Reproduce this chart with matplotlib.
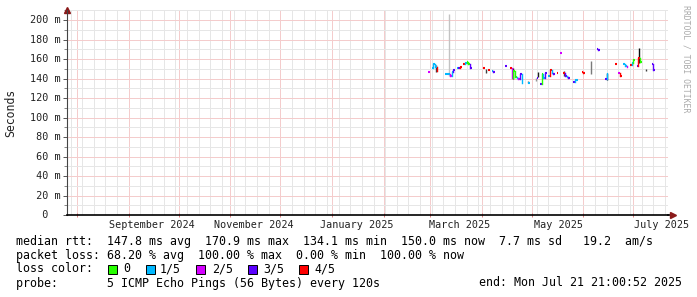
import numpy as np
import pandas as pd
import matplotlib
matplotlib.use("Agg")
import matplotlib.pyplot as plt
import matplotlib.dates as mdates
import matplotlib.transforms as mtrans
from matplotlib.patches import Rectangle
from matplotlib.ticker import MultipleLocator

# ---------------- data ----------------
end_time = "2025-07-21 21:00:52"
span_days = 361

sample_dates = [
    "2025-02-28", "2025-03-02", "2025-03-03", "2025-03-04", "2025-03-05",
    "2025-03-10", "2025-03-11", "2025-03-12", "2025-03-13", "2025-03-14",
    "2025-03-15", "2025-03-17", "2025-03-18", "2025-03-19", "2025-03-21",
    "2025-03-22", "2025-03-23", "2025-03-24", "2025-03-25",
    "2025-04-02", "2025-04-05", "2025-04-07", "2025-04-08", "2025-04-15",
    "2025-04-18", "2025-04-19", "2025-04-20", "2025-04-21", "2025-04-22",
    "2025-04-23", "2025-04-24", "2025-04-25", "2025-04-29",
    "2025-05-04", "2025-05-06", "2025-05-07", "2025-05-08", "2025-05-09",
    "2025-05-11", "2025-05-12", "2025-05-13", "2025-05-14", "2025-05-16",
    "2025-05-18", "2025-05-20", "2025-05-21", "2025-05-22", "2025-05-23",
    "2025-05-26", "2025-05-27", "2025-05-28", "2025-05-31", "2025-06-01",
    "2025-06-09", "2025-06-10", "2025-06-14", "2025-06-15", "2025-06-20",
    "2025-06-22", "2025-06-23", "2025-06-25", "2025-06-26", "2025-06-27",
    "2025-06-29", "2025-06-30", "2025-07-01", "2025-07-03", "2025-07-04",
    "2025-07-05", "2025-07-12", "2025-07-13",
]
median_ms = [
    146.2, 150.8, 154.4, 151.5, 147.7,
    145.1, 144.6, 145.0, 143.1, 147.2,
    149.2, 151.3, 150.3, 152.3, 154.9,
    155.9, 156.9, 154.5, 150.5,
    150.5, 148.7, 148.2, 146.7, 152.8,
    150.5, 140.2, 147.7, 141.8, 140.2,
    140.0, 144.3, 135.1, 135.1,
    141.0, 134.4, 144.6, 140.5, 145.6,
    142.6, 148.7, 145.3, 144.6, 145.3,
    165.8, 145.3, 142.6, 141.5, 140.2,
    136.7, 138.5, 139.0, 147.0, 145.3,
    170.8, 169.2, 140.0, 145.0, 155.0,
    146.0, 143.0, 155.0, 152.8, 151.8,
    153.8, 155.9, 159.0, 152.8, 161.0,
    157.0, 155.0, 149.0,
]
loss_level = [
    2, 1, 1, 1, 4,
    1, 1, 1, 2, 1,
    3, 1, 3, 4, 4,
    1, 0, 0, 3,
    4, 4, 1, 3, 3,
    4, 2, 0, 0, 1,
    2, 3, 1, 1,
    3, 3, 0, 1, 3,
    1, 4, 1, 3, 4,
    2, 4, 3, 1, 3,
    3, 1, 1, 4, 4,
    3, 3, 3, 1, 4,
    2, 4, 1, 1, 2,
    4, 1, 0, 3, 4,
    0, 3, 3,
]

smoke_dates = ["2025-03-04", "2025-03-12", "2025-04-03", "2025-04-19", "2025-04-28",
               "2025-05-03", "2025-05-04", "2025-05-20", "2025-06-05", "2025-06-15",
               "2025-07-04", "2025-07-08"]
smoke_low = [147, 143, 146, 140, 135, 137, 142, 143, 145, 138, 156, 148]
smoke_high = [154, 206, 150, 151, 137, 141, 147, 148, 158, 146, 171, 150]
smoke_density = [0.8, 0.35, 0.8, 0.9, 0.65, 0.5, 0.9, 0.8, 0.6, 0.9, 0.95, 0.8]

loss_labels = ["0", "1/5", "2/5", "3/5", "4/5"]
loss_colors = ["#26ff00", "#00b8ff", "#d400ff", "#5a00ff", "#ff0000"]

month_labels = ["September 2024", "November 2024", "January 2025",
                "March 2025", "May 2025", "July 2025"]
month_label_dates = ["2024-09-15", "2024-11-15", "2025-01-16",
                     "2025-03-19", "2025-05-17", "2025-07-18"]

y_ticks = [0, 20, 40, 60, 80, 100, 120, 140, 160, 180, 200]
y_tick_labels = ["  0  ", " 20 m", " 40 m", " 60 m", " 80 m", "100 m",
                 "120 m", "140 m", "160 m", "180 m", "200 m"]

legend_line1 = "median rtt:  147.8 ms avg  170.9 ms max  134.1 ms min  150.0 ms now  7.7 ms sd   19.2  am/s"
legend_line2 = "packet loss: 68.20 % avg  100.00 % max  0.00 % min  100.00 % now"
legend_line3 = "loss color:"
legend_line4 = "probe:       5 ICMP Echo Pings (56 Bytes) every 120s"
legend_end = "end: Mon Jul 21 21:00:52 2025"

# ---------------- figure ----------------
W, H = 697, 297
fig = plt.figure(figsize=(W / 100, H / 100), dpi=100)
fig.patch.set_facecolor("white")


def fx(px):
    return px / W


def fy(py):
    return 1 - py / H


MONO = "DejaVu Sans Mono"
ax = fig.add_axes([fx(67), fy(215), fx(668) - fx(67), fy(10) - fy(215)])
ax.set_facecolor("white")

t_end = mdates.date2num(pd.Timestamp(end_time))
ax.set_xlim(t_end - span_days, t_end)
ax.set_ylim(0, 210.3)

# grid (dotted in the original; drawn as light lines of the same apparent tone)
ax.xaxis.set_major_locator(mdates.MonthLocator())
ax.xaxis.set_minor_locator(mdates.WeekdayLocator(byweekday=mdates.SU))
ax.yaxis.set_major_locator(MultipleLocator(20))
ax.yaxis.set_minor_locator(MultipleLocator(10))
ax.grid(which="minor", color="#e6e6e6", linestyle="-", linewidth=0.72, zorder=0)
ax.grid(which="major", color="#f4cccc", linestyle="-", linewidth=0.72, zorder=0)
ax.set_axisbelow(True)
ax.set_xticklabels([])
ax.set_yticklabels([])
ax.tick_params(axis="x", which="major", length=3, width=0.7, color="#e08080", direction="inout")
ax.tick_params(axis="x", which="minor", length=0)
ax.tick_params(axis="y", which="major", length=3, width=0.7, color="#555555", direction="out")
ax.tick_params(axis="y", which="minor", length=2, width=0.7, color="#888888", direction="out")

for s in ["top", "right"]:
    ax.spines[s].set_visible(False)
ax.spines["bottom"].set_color("black")
ax.spines["bottom"].set_linewidth(1.2)
ax.spines["left"].set_color("#444444")
ax.spines["left"].set_linewidth(0.8)

# arrows
ax.plot([1.0, 1.008], [0, 0], transform=ax.transAxes, color="black", lw=1.2, clip_on=False)
ax.plot([1.008], [0], marker=">", ms=4, color="#8b1a1a", transform=ax.transAxes, clip_on=False)
ax.plot([0], [1.0], marker="^", ms=4, color="#8b1a1a", transform=ax.transAxes, clip_on=False)

# smoke
sd = mdates.date2num(pd.to_datetime(smoke_dates))
greys = plt.get_cmap("Greys")
for d, lo, hi, dens in zip(sd, smoke_low, smoke_high, smoke_density):
    ax.vlines(d + 0.5, lo, hi, color=greys(dens), lw=1.0, zorder=2)

# medians
dn = mdates.date2num(pd.to_datetime(sample_dates))
for i, (d, m, l) in enumerate(zip(dn, median_ms, loss_level)):
    c = loss_colors[l]
    ax.plot([d, d + 1.0], [m, m], color=c, lw=1.5, solid_capstyle="butt", zorder=3)
    if i > 0 and d - dn[i - 1] <= 1.01:
        ax.plot([d, d], [median_ms[i - 1], m], color=c, lw=1.0, zorder=3)

# x labels
bt = mtrans.blended_transform_factory(ax.transData, fig.transFigure)
for lab, ld in zip(month_labels, month_label_dates):
    ax.text(mdates.date2num(pd.Timestamp(ld)), fy(225), lab, transform=bt,
            ha="center", va="center", family=MONO, size=7.25, color="#222222")

# y labels
bt2 = mtrans.blended_transform_factory(fig.transFigure, ax.transData)
for v, lab in zip(y_ticks, y_tick_labels):
    fig.text(fx(30), 0, lab, transform=bt2, family=MONO, size=7.25, color="#222222",
             ha="left", va="center").set_y(v)

fig.text(fx(11), fy(113), "Seconds", rotation=90, family=MONO, size=8.3,
         ha="center", va="center", color="#222222")
fig.text(fx(686), fy(59), "RRDTOOL / TOBI OETIKER", rotation=270, family=MONO,
         size=5.9, ha="center", va="center", color="#aaaaaa")

# legend
LS = 8.4
fig.text(fx(16), fy(241), legend_line1, family=MONO, size=LS, ha="left", va="center", color="black")
fig.text(fx(16), fy(255), legend_line2, family=MONO, size=LS, ha="left", va="center", color="black")
fig.text(fx(16), fy(269), legend_line3, family=MONO, size=LS, ha="left", va="center", color="black")
fig.text(fx(16), fy(283), legend_line4, family=MONO, size=LS, ha="left", va="center", color="black")
fig.text(fx(479), fy(283), legend_end, family=MONO, size=LS, ha="left", va="center", color="black")

box_x = [108, 146, 196, 248, 299]
text_x = [123, 160, 212, 263, 314]
for bx, tx, lab, col in zip(box_x, text_x, loss_labels, loss_colors):
    fig.add_artist(Rectangle((fx(bx), fy(274)), 9 / W, 9 / H, transform=fig.transFigure,
                             facecolor=col, edgecolor="black", lw=0.7))
    fig.text(fx(tx), fy(269), lab, family=MONO, size=LS, ha="left", va="center", color="black")

fig.savefig("out.png", dpi=100, facecolor="white")
